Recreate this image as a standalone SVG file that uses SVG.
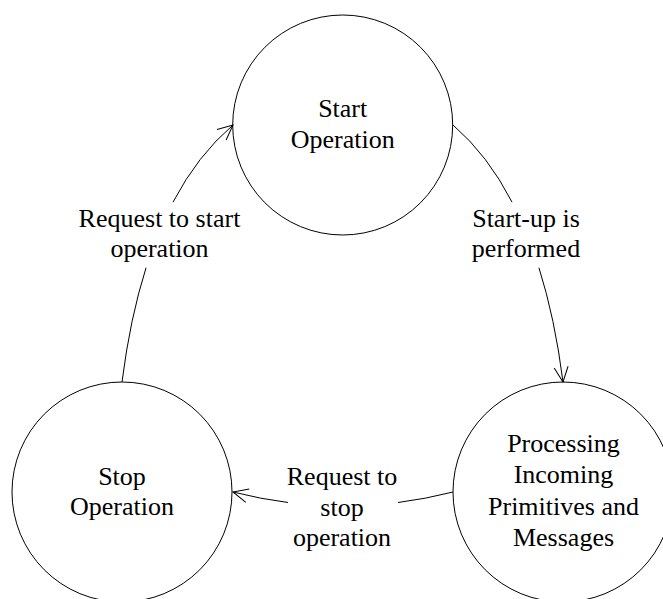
<svg xmlns="http://www.w3.org/2000/svg" width="663" height="599" viewBox="0 0 663 599">
<style>
  .node { fill: #ffffff; stroke: #000000; stroke-width: 1; }
  .edge { fill: none; stroke: #000000; stroke-width: 1; }
  text { font-family: "Liberation Serif", "Times New Roman", serif; font-size: 26px; fill: #000000; text-anchor: middle; }
</style>
<defs>
  <marker id="arrow" markerUnits="userSpaceOnUse" markerWidth="17" markerHeight="17" viewBox="0 0 17 17" refX="16" refY="8.5" orient="auto">
    <path d="M1,1.5 L16,8.5 L1,15.5" fill="none" stroke="#000000" stroke-width="1"/>
  </marker>
</defs>
<rect width="663" height="599" fill="#ffffff"/>
<g id="start-operation">
  <circle class="node" cx="342.7" cy="125" r="110"/>
  <text x="342.7" y="117">Start</text>
  <text x="342.7" y="148">Operation</text>
</g>
<g id="stop-operation">
  <circle class="node" cx="122" cy="492" r="110"/>
  <text x="122" y="485">Stop</text>
  <text x="122" y="515">Operation</text>
</g>
<g id="processing">
  <circle class="node" cx="563" cy="492" r="110"/>
  <text x="563.5" y="452">Processing</text>
  <text x="563.5" y="483">Incoming</text>
  <text x="563.5" y="515">Primitives and</text>
  <text x="563.5" y="546">Messages</text>
</g>
<g id="connectors">
  <path class="edge" d="M122,382 Q130.05,318.3 146.06,267.71"/>
  <path class="edge" d="M173,202.12 Q197.8,155 233,125" marker-end="url(#arrow)"/>
  <path class="edge" d="M453,125 Q487.8,155 512,202.12"/>
  <path class="edge" d="M538.94,267.71 Q554.95,318.3 563,382" marker-end="url(#arrow)"/>
  <path class="edge" d="M453,492 Q425.5,499 398,502.5"/>
  <path class="edge" d="M288,502.5 Q260.5,499 233,492" marker-end="url(#arrow)"/>
</g>
<g id="labels">
  <text x="159.5" y="227">Request to start</text>
  <text x="159.5" y="257">operation</text>
  <text x="526" y="227">Start-up is</text>
  <text x="526" y="257">performed</text>
  <text x="342" y="485">Request to</text>
  <text x="342" y="516">stop</text>
  <text x="342" y="546">operation</text>
</g>
</svg>
